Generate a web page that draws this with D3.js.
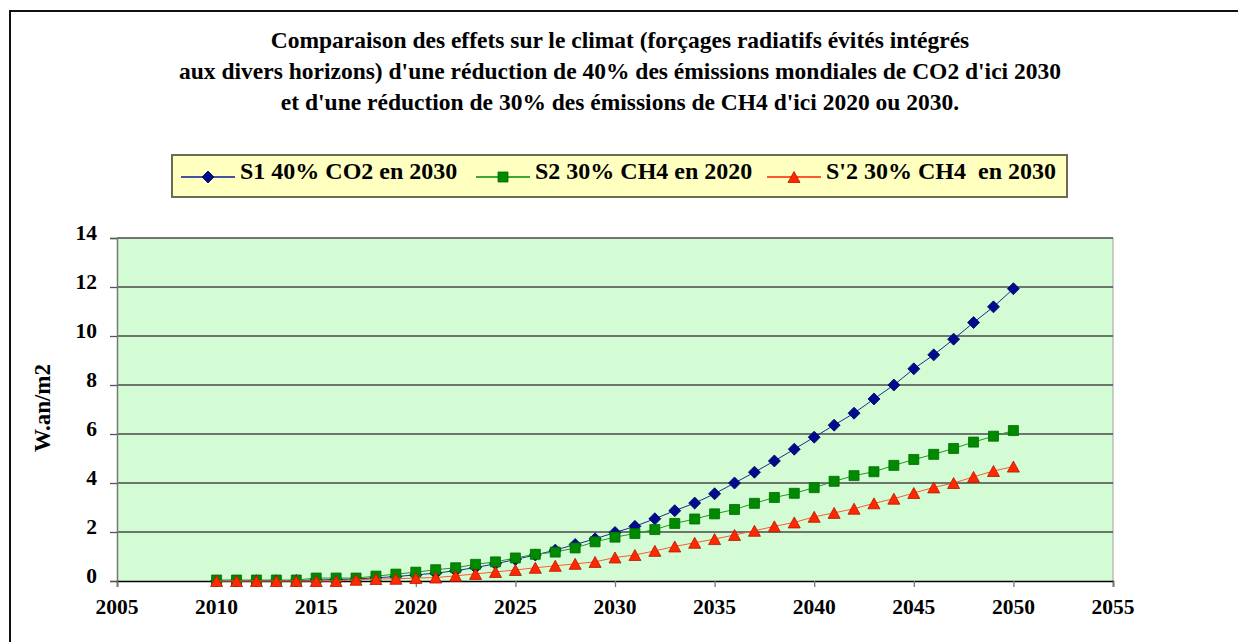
<!DOCTYPE html>
<html>
<head>
<meta charset="utf-8">
<script src="https://cdn.jsdelivr.net/npm/d3@7"></script>
</head>
<body style="margin:0">
<div id="chart"></div>
<script>
// years 2010 .. 2050
let years = d3.range(2010, 2051);

let seriesNames = ['S1 40% CO2 en 2030', 'S2 30% CH4 en 2020', "S'2 30% CH4  en 2030"];

let s1 = [0.00, 0.00, 0.01, 0.01, 0.02, 0.04, 0.06, 0.08, 0.13, 0.18,
  0.25, 0.32, 0.42, 0.55, 0.70, 0.88, 1.06, 1.26, 1.49, 1.72,
  1.98, 2.23, 2.54, 2.87, 3.18, 3.56, 4.00, 4.44, 4.90, 5.38,
  5.87, 6.36, 6.85, 7.43, 8.00, 8.66, 9.23, 9.87, 10.55, 11.19, 11.93];

let s2 = [0.04, 0.04, 0.04, 0.04, 0.04, 0.12, 0.12, 0.12, 0.20, 0.28,
  0.36, 0.46, 0.54, 0.68, 0.78, 0.94, 1.09, 1.18, 1.35, 1.60,
  1.79, 1.94, 2.10, 2.35, 2.53, 2.74, 2.92, 3.17, 3.41, 3.58,
  3.81, 4.07, 4.30, 4.46, 4.72, 4.96, 5.17, 5.41, 5.67, 5.91, 6.14];

let s2b = [0.00, 0.00, 0.00, 0.00, 0.00, 0.00, 0.00, 0.05, 0.08, 0.09,
  0.12, 0.14, 0.21, 0.29, 0.37, 0.45, 0.54, 0.62, 0.70, 0.78,
  0.96, 1.06, 1.23, 1.41, 1.56, 1.71, 1.88, 2.05, 2.23, 2.39,
  2.62, 2.78, 2.95, 3.17, 3.36, 3.59, 3.82, 4.00, 4.25, 4.49, 4.67];

let xTicks = [2005, 2010, 2015, 2020, 2025, 2030, 2035, 2040, 2045, 2050, 2055];
let yTicks = [0, 2, 4, 6, 8, 10, 12, 14];

let titleLines = [
  'Comparaison des effets sur le climat (forçages radiatifs évités intégrés',
  "aux divers horizons) d'une réduction de 40% des émissions mondiales de CO2 d'ici 2030",
  "et d'une réduction de 30% des émissions de CH4 d'ici 2020 ou 2030."
];

let W = 1238, H = 642;
let margin = {top: 238, left: 117, right: 125, bottom: 61};

let svg = d3.select('#chart').append('svg').attr('width', W).attr('height', H);

// outer frame (runs off the right and bottom edges)
svg.append('rect').attr('x', 10).attr('y', 11).attr('width', 1240).attr('height', 650)
  .attr('fill', 'none').attr('stroke', '#111').attr('stroke-width', 2);

function serifText(parent, str, size) {
  return parent.append('text').style('font-family', 'Times')
    .style('font-weight', 'bold').style('font-size', size + 'px').style('fill', '#000').text(str);
}

// title
titleLines.forEach((t, i) => {
  serifText(svg, t, 23.5).attr('x', 620).attr('y', 48 + i * 31).attr('text-anchor', 'middle');
});

// legend
let legend = svg.append('g');
legend.append('rect').attr('x', 172).attr('y', 155).attr('width', 895).attr('height', 42)
  .attr('fill', '#ffffc0').attr('stroke', '#6b6b50').attr('stroke-width', 2);

let colors = [
  {line: '#1a2a9a', fill: '#000a8c', stroke: '#000060'},
  {line: '#1f9a1f', fill: '#008a00', stroke: '#006a00'},
  {line: '#ff5a30', fill: '#ff2800', stroke: '#b01800'}
];
let legendLineColors = ['#0a1a90', '#008a00', '#ff2000'];

let markerPath = [
  s => 'M0,' + (-s) + 'L' + s + ',0L0,' + s + 'L' + (-s) + ',0Z',
  s => 'M' + (-s) + ',' + (-s) + 'H' + s + 'V' + s + 'H' + (-s) + 'Z',
  s => 'M0,' + (-s) + 'L' + (s + 0.5) + ',' + s + 'H' + (-s - 0.5) + 'Z'
];
let markerSize = [6, 5, 5.5];

let legendStart = [181, 476, 767];
seriesNames.forEach((name, i) => {
  let g = legend.append('g').attr('transform', 'translate(' + legendStart[i] + ',0)');
  g.append('line').attr('x1', 0).attr('x2', 54).attr('y1', 177).attr('y2', 177)
    .attr('stroke', legendLineColors[i]).attr('stroke-width', 1.5);
  g.append('path').attr('d', markerPath[i](markerSize[i]))
    .attr('transform', 'translate(27,177)')
    .attr('fill', colors[i].fill).attr('stroke', colors[i].stroke).attr('stroke-width', 0.8);
  serifText(g, name, 24).attr('x', 59).attr('y', 178.5).style('white-space', 'pre');
});

// plot area
let x = d3.scaleLinear().domain([2005, 2055]).range([margin.left, W - margin.right]);
let y = d3.scaleLinear().domain([0, 14]).range([H - margin.bottom, margin.top]);

svg.append('rect').attr('x', x(2005)).attr('y', y(14))
  .attr('width', x(2055) - x(2005)).attr('height', y(0) - y(14))
  .attr('fill', '#d4fcd4');

// right border of plot area
svg.append('line').attr('x1', x(2055)).attr('x2', x(2055)).attr('y1', y(14)).attr('y2', y(0))
  .attr('stroke', '#a0a0a0').attr('stroke-width', 1);

// gridlines
svg.append('g').selectAll('line').data(yTicks.filter(d => d > 0)).enter().append('line')
  .attr('x1', x(2005)).attr('x2', x(2055))
  .attr('y1', d => y(d)).attr('y2', d => y(d))
  .attr('stroke', '#4a4a4a').attr('stroke-width', 1.3);

// y axis: line + ticks from d3, labels drawn as own text
let yAxis = svg.append('g').attr('transform', 'translate(' + x(2005) + ',0)')
  .call(d3.axisLeft(y).tickValues(yTicks).tickSize(7).tickFormat(''));
yAxis.select('.domain').attr('stroke', '#777').attr('stroke-width', 1.5);
yAxis.selectAll('.tick line').attr('stroke', '#555').attr('stroke-width', 1.3);
yTicks.forEach(v => {
  serifText(svg, String(v), 21.5).attr('x', x(2005) - 20).attr('y', y(v) + 2).attr('text-anchor', 'end');
});

// x axis
let xAxis = svg.append('g').attr('transform', 'translate(0,' + y(0) + ')')
  .call(d3.axisBottom(x).tickValues(xTicks).tickSize(6).tickFormat(''));
xAxis.select('.domain').attr('stroke', '#000').attr('stroke-width', 1.5);
xAxis.selectAll('.tick line').attr('stroke', '#777').attr('stroke-width', 1.3);
xTicks.forEach(v => {
  serifText(svg, String(v), 21.5).attr('x', x(v)).attr('y', 614).attr('text-anchor', 'middle');
});

// y axis title
serifText(svg, 'W.an/m2', 23).attr('transform', 'translate(50,408) rotate(-90)')
  .attr('text-anchor', 'middle');

// series
let allSeries = [s1, s2, s2b];
let line = d3.line().x((d, i) => x(years[i])).y(d => y(d));

allSeries.forEach((vals, k) => {
  let g = svg.append('g');
  g.append('path').datum(vals).attr('d', line)
    .attr('fill', 'none').attr('stroke', colors[k].line).attr('stroke-width', 1);
  g.selectAll('.mk').data(vals).enter().append('path').attr('class', 'mk')
    .attr('d', markerPath[k](markerSize[k]))
    .attr('transform', (d, i) => 'translate(' + x(years[i]) + ',' + y(d) + ')')
    .attr('fill', colors[k].fill).attr('stroke', colors[k].stroke).attr('stroke-width', 0.8);
});
</script>
</body>
</html>
